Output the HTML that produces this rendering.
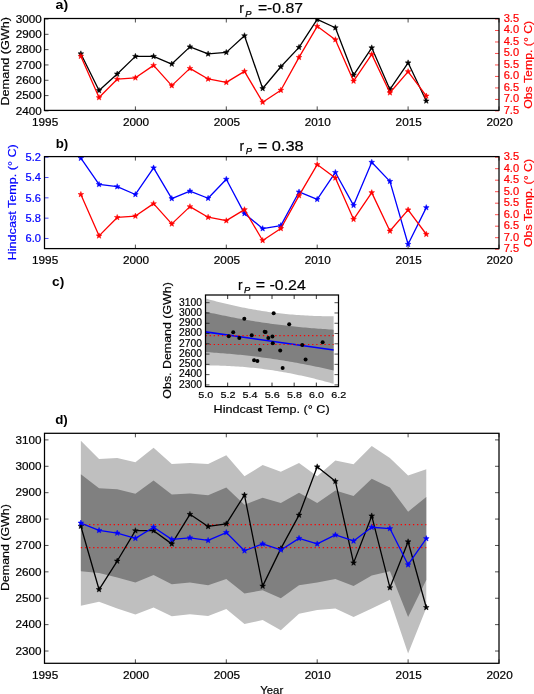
<!DOCTYPE html>
<html><head><meta charset="utf-8"><style>html,body{margin:0;padding:0;background:#fff;width:534px;height:694px;overflow:hidden}svg{display:block;will-change:transform}</style></head>
<body><svg width="534" height="694" viewBox="0 0 534 694" font-family='"Liberation Sans", sans-serif'><line x1="44.50" y1="110.40" x2="44.50" y2="106.40" stroke="#000" stroke-width="0.7"/><line x1="44.50" y1="18.50" x2="44.50" y2="22.50" stroke="#000" stroke-width="0.7"/><line x1="135.40" y1="110.40" x2="135.40" y2="106.40" stroke="#000" stroke-width="0.7"/><line x1="135.40" y1="18.50" x2="135.40" y2="22.50" stroke="#000" stroke-width="0.7"/><line x1="226.30" y1="110.40" x2="226.30" y2="106.40" stroke="#000" stroke-width="0.7"/><line x1="226.30" y1="18.50" x2="226.30" y2="22.50" stroke="#000" stroke-width="0.7"/><line x1="317.20" y1="110.40" x2="317.20" y2="106.40" stroke="#000" stroke-width="0.7"/><line x1="317.20" y1="18.50" x2="317.20" y2="22.50" stroke="#000" stroke-width="0.7"/><line x1="408.10" y1="110.40" x2="408.10" y2="106.40" stroke="#000" stroke-width="0.7"/><line x1="408.10" y1="18.50" x2="408.10" y2="22.50" stroke="#000" stroke-width="0.7"/><line x1="499.00" y1="110.40" x2="499.00" y2="106.40" stroke="#000" stroke-width="0.7"/><line x1="499.00" y1="18.50" x2="499.00" y2="22.50" stroke="#000" stroke-width="0.7"/>
<line x1="44.50" y1="110.90" x2="48.50" y2="110.90" stroke="#000" stroke-width="0.7"/><line x1="44.50" y1="95.58" x2="48.50" y2="95.58" stroke="#000" stroke-width="0.7"/><line x1="44.50" y1="80.27" x2="48.50" y2="80.27" stroke="#000" stroke-width="0.7"/><line x1="44.50" y1="64.95" x2="48.50" y2="64.95" stroke="#000" stroke-width="0.7"/><line x1="44.50" y1="49.63" x2="48.50" y2="49.63" stroke="#000" stroke-width="0.7"/><line x1="44.50" y1="34.32" x2="48.50" y2="34.32" stroke="#000" stroke-width="0.7"/><line x1="44.50" y1="19.00" x2="48.50" y2="19.00" stroke="#000" stroke-width="0.7"/>
<line x1="499.00" y1="19.00" x2="495.00" y2="19.00" stroke="#f00" stroke-width="0.7"/><line x1="499.00" y1="30.49" x2="495.00" y2="30.49" stroke="#f00" stroke-width="0.7"/><line x1="499.00" y1="41.98" x2="495.00" y2="41.98" stroke="#f00" stroke-width="0.7"/><line x1="499.00" y1="53.46" x2="495.00" y2="53.46" stroke="#f00" stroke-width="0.7"/><line x1="499.00" y1="64.95" x2="495.00" y2="64.95" stroke="#f00" stroke-width="0.7"/><line x1="499.00" y1="76.44" x2="495.00" y2="76.44" stroke="#f00" stroke-width="0.7"/><line x1="499.00" y1="87.93" x2="495.00" y2="87.93" stroke="#f00" stroke-width="0.7"/><line x1="499.00" y1="99.41" x2="495.00" y2="99.41" stroke="#f00" stroke-width="0.7"/><line x1="499.00" y1="110.90" x2="495.00" y2="110.90" stroke="#f00" stroke-width="0.7"/>
<clipPath id="ca"><rect x="44.50" y="18.50" width="454.50" height="91.90"/></clipPath><g clip-path="url(#ca)">
<polyline points="80.86,53.77 99.04,90.53 117.22,73.99 135.40,56.37 153.58,56.37 171.76,64.03 189.94,46.88 208.12,53.92 226.30,52.39 244.48,35.70 262.66,88.54 280.84,66.79 299.02,47.34 317.20,19.31 335.38,27.73 353.56,75.06 371.74,47.80 389.92,89.46 408.10,62.81 426.28,100.94" fill="none" stroke="#000" stroke-width="1.3" stroke-linejoin="round" />
<polygon points="80.86,50.77 81.60,52.75 83.71,52.84 82.06,54.16 82.62,56.20 80.86,55.03 79.10,56.20 79.66,54.16 78.01,52.84 80.12,52.75" fill="#000" stroke="#000" stroke-width="0.5"/>
<polygon points="99.04,87.53 99.78,89.51 101.89,89.60 100.24,90.92 100.80,92.96 99.04,91.79 97.28,92.96 97.84,90.92 96.19,89.60 98.30,89.51" fill="#000" stroke="#000" stroke-width="0.5"/>
<polygon points="117.22,70.99 117.96,72.97 120.07,73.06 118.42,74.38 118.98,76.41 117.22,75.25 115.46,76.41 116.02,74.38 114.37,73.06 116.48,72.97" fill="#000" stroke="#000" stroke-width="0.5"/>
<polygon points="135.40,53.37 136.14,55.35 138.25,55.45 136.60,56.76 137.16,58.80 135.40,57.63 133.64,58.80 134.20,56.76 132.55,55.45 134.66,55.35" fill="#000" stroke="#000" stroke-width="0.5"/>
<polygon points="153.58,53.37 154.32,55.35 156.43,55.45 154.78,56.76 155.34,58.80 153.58,57.63 151.82,58.80 152.38,56.76 150.73,55.45 152.84,55.35" fill="#000" stroke="#000" stroke-width="0.5"/>
<polygon points="171.76,61.03 172.50,63.01 174.61,63.10 172.96,64.42 173.52,66.46 171.76,65.29 170.00,66.46 170.56,64.42 168.91,63.10 171.02,63.01" fill="#000" stroke="#000" stroke-width="0.5"/>
<polygon points="189.94,43.88 190.68,45.86 192.79,45.95 191.14,47.27 191.70,49.30 189.94,48.14 188.18,49.30 188.74,47.27 187.09,45.95 189.20,45.86" fill="#000" stroke="#000" stroke-width="0.5"/>
<polygon points="208.12,50.92 208.86,52.90 210.97,52.99 209.32,54.31 209.88,56.35 208.12,55.18 206.36,56.35 206.92,54.31 205.27,52.99 207.38,52.90" fill="#000" stroke="#000" stroke-width="0.5"/>
<polygon points="226.30,49.39 227.04,51.37 229.15,51.46 227.50,52.78 228.06,54.82 226.30,53.65 224.54,54.82 225.10,52.78 223.45,51.46 225.56,51.37" fill="#000" stroke="#000" stroke-width="0.5"/>
<polygon points="244.48,32.70 245.22,34.68 247.33,34.77 245.68,36.08 246.24,38.12 244.48,36.96 242.72,38.12 243.28,36.08 241.63,34.77 243.74,34.68" fill="#000" stroke="#000" stroke-width="0.5"/>
<polygon points="262.66,85.54 263.40,87.52 265.51,87.61 263.86,88.93 264.42,90.96 262.66,89.80 260.90,90.96 261.46,88.93 259.81,87.61 261.92,87.52" fill="#000" stroke="#000" stroke-width="0.5"/>
<polygon points="280.84,63.79 281.58,65.77 283.69,65.86 282.04,67.18 282.60,69.22 280.84,68.05 279.08,69.22 279.64,67.18 277.99,65.86 280.10,65.77" fill="#000" stroke="#000" stroke-width="0.5"/>
<polygon points="299.02,44.34 299.76,46.32 301.87,46.41 300.22,47.73 300.78,49.76 299.02,48.60 297.26,49.76 297.82,47.73 296.17,46.41 298.28,46.32" fill="#000" stroke="#000" stroke-width="0.5"/>
<polygon points="317.20,16.31 317.94,18.29 320.05,18.38 318.40,19.70 318.96,21.73 317.20,20.57 315.44,21.73 316.00,19.70 314.35,18.38 316.46,18.29" fill="#000" stroke="#000" stroke-width="0.5"/>
<polygon points="335.38,24.73 336.12,26.71 338.23,26.80 336.58,28.12 337.14,30.16 335.38,28.99 333.62,30.16 334.18,28.12 332.53,26.80 334.64,26.71" fill="#000" stroke="#000" stroke-width="0.5"/>
<polygon points="353.56,72.06 354.30,74.04 356.41,74.13 354.76,75.45 355.32,77.49 353.56,76.32 351.80,77.49 352.36,75.45 350.71,74.13 352.82,74.04" fill="#000" stroke="#000" stroke-width="0.5"/>
<polygon points="371.74,44.80 372.48,46.78 374.59,46.87 372.94,48.18 373.50,50.22 371.74,49.06 369.98,50.22 370.54,48.18 368.89,46.87 371.00,46.78" fill="#000" stroke="#000" stroke-width="0.5"/>
<polygon points="389.92,86.46 390.66,88.44 392.77,88.53 391.12,89.85 391.68,91.88 389.92,90.72 388.16,91.88 388.72,89.85 387.07,88.53 389.18,88.44" fill="#000" stroke="#000" stroke-width="0.5"/>
<polygon points="408.10,59.81 408.84,61.79 410.95,61.88 409.30,63.20 409.86,65.23 408.10,64.07 406.34,65.23 406.90,63.20 405.25,61.88 407.36,61.79" fill="#000" stroke="#000" stroke-width="0.5"/>
<polygon points="426.28,97.94 427.02,99.92 429.13,100.02 427.48,101.33 428.04,103.37 426.28,102.20 424.52,103.37 425.08,101.33 423.43,100.02 425.54,99.92" fill="#000" stroke="#000" stroke-width="0.5"/>
<polyline points="80.86,56.22 99.04,97.57 117.22,79.19 135.40,77.82 153.58,65.41 171.76,85.63 189.94,68.40 208.12,78.96 226.30,82.41 244.48,71.38 262.66,102.17 280.84,90.22 299.02,57.37 317.20,26.35 335.38,39.68 353.56,81.03 371.74,54.38 389.92,92.75 408.10,71.61 426.28,95.97" fill="none" stroke="#f00" stroke-width="1.3" stroke-linejoin="round" />
<polygon points="80.86,53.22 81.60,55.20 83.71,55.29 82.06,56.61 82.62,58.65 80.86,57.48 79.10,58.65 79.66,56.61 78.01,55.29 80.12,55.20" fill="#f00" stroke="#f00" stroke-width="0.5"/>
<polygon points="99.04,94.57 99.78,96.56 101.89,96.65 100.24,97.96 100.80,100.00 99.04,98.83 97.28,100.00 97.84,97.96 96.19,96.65 98.30,96.56" fill="#f00" stroke="#f00" stroke-width="0.5"/>
<polygon points="117.22,76.19 117.96,78.18 120.07,78.27 118.42,79.58 118.98,81.62 117.22,80.45 115.46,81.62 116.02,79.58 114.37,78.27 116.48,78.18" fill="#f00" stroke="#f00" stroke-width="0.5"/>
<polygon points="135.40,74.82 136.14,76.80 138.25,76.89 136.60,78.21 137.16,80.24 135.40,79.08 133.64,80.24 134.20,78.21 132.55,76.89 134.66,76.80" fill="#f00" stroke="#f00" stroke-width="0.5"/>
<polygon points="153.58,62.41 154.32,64.39 156.43,64.48 154.78,65.80 155.34,67.84 153.58,66.67 151.82,67.84 152.38,65.80 150.73,64.48 152.84,64.39" fill="#f00" stroke="#f00" stroke-width="0.5"/>
<polygon points="171.76,82.63 172.50,84.61 174.61,84.70 172.96,86.02 173.52,88.05 171.76,86.89 170.00,88.05 170.56,86.02 168.91,84.70 171.02,84.61" fill="#f00" stroke="#f00" stroke-width="0.5"/>
<polygon points="189.94,65.40 190.68,67.38 192.79,67.47 191.14,68.79 191.70,70.82 189.94,69.66 188.18,70.82 188.74,68.79 187.09,67.47 189.20,67.38" fill="#f00" stroke="#f00" stroke-width="0.5"/>
<polygon points="208.12,75.96 208.86,77.95 210.97,78.04 209.32,79.35 209.88,81.39 208.12,80.22 206.36,81.39 206.92,79.35 205.27,78.04 207.38,77.95" fill="#f00" stroke="#f00" stroke-width="0.5"/>
<polygon points="226.30,79.41 227.04,81.39 229.15,81.48 227.50,82.80 228.06,84.84 226.30,83.67 224.54,84.84 225.10,82.80 223.45,81.48 225.56,81.39" fill="#f00" stroke="#f00" stroke-width="0.5"/>
<polygon points="244.48,68.38 245.22,70.36 247.33,70.46 245.68,71.77 246.24,73.81 244.48,72.64 242.72,73.81 243.28,71.77 241.63,70.46 243.74,70.36" fill="#f00" stroke="#f00" stroke-width="0.5"/>
<polygon points="262.66,99.17 263.40,101.15 265.51,101.24 263.86,102.56 264.42,104.60 262.66,103.43 260.90,104.60 261.46,102.56 259.81,101.24 261.92,101.15" fill="#f00" stroke="#f00" stroke-width="0.5"/>
<polygon points="280.84,87.22 281.58,89.20 283.69,89.30 282.04,90.61 282.60,92.65 280.84,91.48 279.08,92.65 279.64,90.61 277.99,89.30 280.10,89.20" fill="#f00" stroke="#f00" stroke-width="0.5"/>
<polygon points="299.02,54.37 299.76,56.35 301.87,56.44 300.22,57.76 300.78,59.80 299.02,58.63 297.26,59.80 297.82,57.76 296.17,56.44 298.28,56.35" fill="#f00" stroke="#f00" stroke-width="0.5"/>
<polygon points="317.20,23.35 317.94,25.33 320.05,25.42 318.40,26.74 318.96,28.78 317.20,27.61 315.44,28.78 316.00,26.74 314.35,25.42 316.46,25.33" fill="#f00" stroke="#f00" stroke-width="0.5"/>
<polygon points="335.38,36.68 336.12,38.66 338.23,38.75 336.58,40.07 337.14,42.10 335.38,40.94 333.62,42.10 334.18,40.07 332.53,38.75 334.64,38.66" fill="#f00" stroke="#f00" stroke-width="0.5"/>
<polygon points="353.56,78.03 354.30,80.01 356.41,80.11 354.76,81.42 355.32,83.46 353.56,82.29 351.80,83.46 352.36,81.42 350.71,80.11 352.82,80.01" fill="#f00" stroke="#f00" stroke-width="0.5"/>
<polygon points="371.74,51.38 372.48,53.36 374.59,53.45 372.94,54.77 373.50,56.81 371.74,55.64 369.98,56.81 370.54,54.77 368.89,53.45 371.00,53.36" fill="#f00" stroke="#f00" stroke-width="0.5"/>
<polygon points="389.92,89.75 390.66,91.73 392.77,91.82 391.12,93.14 391.68,95.18 389.92,94.01 388.16,95.18 388.72,93.14 387.07,91.82 389.18,91.73" fill="#f00" stroke="#f00" stroke-width="0.5"/>
<polygon points="408.10,68.61 408.84,70.59 410.95,70.69 409.30,72.00 409.86,74.04 408.10,72.87 406.34,74.04 406.90,72.00 405.25,70.69 407.36,70.59" fill="#f00" stroke="#f00" stroke-width="0.5"/>
<polygon points="426.28,92.97 427.02,94.95 429.13,95.04 427.48,96.36 428.04,98.39 426.28,97.23 424.52,98.39 425.08,96.36 423.43,95.04 425.54,94.95" fill="#f00" stroke="#f00" stroke-width="0.5"/>
</g>
<rect x="44.50" y="18.50" width="454.50" height="91.90" fill="none" stroke="#000" stroke-width="1.25"/>
<text x="41.80" y="114.70" font-size="10.4" fill="#000" text-anchor="end" font-weight="normal" stroke="#000" stroke-width="0.2" textLength="26.00" lengthAdjust="spacingAndGlyphs" >2400</text>
<text x="41.80" y="99.38" font-size="10.4" fill="#000" text-anchor="end" font-weight="normal" stroke="#000" stroke-width="0.2" textLength="26.00" lengthAdjust="spacingAndGlyphs" >2500</text>
<text x="41.80" y="84.07" font-size="10.4" fill="#000" text-anchor="end" font-weight="normal" stroke="#000" stroke-width="0.2" textLength="26.00" lengthAdjust="spacingAndGlyphs" >2600</text>
<text x="41.80" y="68.75" font-size="10.4" fill="#000" text-anchor="end" font-weight="normal" stroke="#000" stroke-width="0.2" textLength="26.00" lengthAdjust="spacingAndGlyphs" >2700</text>
<text x="41.80" y="53.43" font-size="10.4" fill="#000" text-anchor="end" font-weight="normal" stroke="#000" stroke-width="0.2" textLength="26.00" lengthAdjust="spacingAndGlyphs" >2800</text>
<text x="41.80" y="38.12" font-size="10.4" fill="#000" text-anchor="end" font-weight="normal" stroke="#000" stroke-width="0.2" textLength="26.00" lengthAdjust="spacingAndGlyphs" >2900</text>
<text x="41.80" y="22.80" font-size="10.4" fill="#000" text-anchor="end" font-weight="normal" stroke="#000" stroke-width="0.2" textLength="26.00" lengthAdjust="spacingAndGlyphs" >3000</text>
<text x="503.70" y="22.00" font-size="10" fill="#f00" text-anchor="start" font-weight="normal" stroke="#f00" stroke-width="0.2" textLength="15.40" lengthAdjust="spacingAndGlyphs" >3.5</text>
<text x="503.70" y="33.49" font-size="10" fill="#f00" text-anchor="start" font-weight="normal" stroke="#f00" stroke-width="0.2" textLength="15.40" lengthAdjust="spacingAndGlyphs" >4.0</text>
<text x="503.70" y="44.98" font-size="10" fill="#f00" text-anchor="start" font-weight="normal" stroke="#f00" stroke-width="0.2" textLength="15.40" lengthAdjust="spacingAndGlyphs" >4.5</text>
<text x="503.70" y="56.46" font-size="10" fill="#f00" text-anchor="start" font-weight="normal" stroke="#f00" stroke-width="0.2" textLength="15.40" lengthAdjust="spacingAndGlyphs" >5.0</text>
<text x="503.70" y="67.95" font-size="10" fill="#f00" text-anchor="start" font-weight="normal" stroke="#f00" stroke-width="0.2" textLength="15.40" lengthAdjust="spacingAndGlyphs" >5.5</text>
<text x="503.70" y="79.44" font-size="10" fill="#f00" text-anchor="start" font-weight="normal" stroke="#f00" stroke-width="0.2" textLength="15.40" lengthAdjust="spacingAndGlyphs" >6.0</text>
<text x="503.70" y="90.93" font-size="10" fill="#f00" text-anchor="start" font-weight="normal" stroke="#f00" stroke-width="0.2" textLength="15.40" lengthAdjust="spacingAndGlyphs" >6.5</text>
<text x="503.70" y="102.41" font-size="10" fill="#f00" text-anchor="start" font-weight="normal" stroke="#f00" stroke-width="0.2" textLength="15.40" lengthAdjust="spacingAndGlyphs" >7.0</text>
<text x="503.70" y="113.90" font-size="10" fill="#f00" text-anchor="start" font-weight="normal" stroke="#f00" stroke-width="0.2" textLength="15.40" lengthAdjust="spacingAndGlyphs" >7.5</text>
<text x="45.10" y="125.60" font-size="10.4" fill="#000" text-anchor="middle" font-weight="normal" stroke="#000" stroke-width="0.2" textLength="26.20" lengthAdjust="spacingAndGlyphs" >1995</text><text x="136.00" y="125.60" font-size="10.4" fill="#000" text-anchor="middle" font-weight="normal" stroke="#000" stroke-width="0.2" textLength="26.20" lengthAdjust="spacingAndGlyphs" >2000</text><text x="226.90" y="125.60" font-size="10.4" fill="#000" text-anchor="middle" font-weight="normal" stroke="#000" stroke-width="0.2" textLength="26.20" lengthAdjust="spacingAndGlyphs" >2005</text><text x="317.80" y="125.60" font-size="10.4" fill="#000" text-anchor="middle" font-weight="normal" stroke="#000" stroke-width="0.2" textLength="26.20" lengthAdjust="spacingAndGlyphs" >2010</text><text x="408.70" y="125.60" font-size="10.4" fill="#000" text-anchor="middle" font-weight="normal" stroke="#000" stroke-width="0.2" textLength="26.20" lengthAdjust="spacingAndGlyphs" >2015</text><text x="499.60" y="125.60" font-size="10.4" fill="#000" text-anchor="middle" font-weight="normal" stroke="#000" stroke-width="0.2" textLength="26.20" lengthAdjust="spacingAndGlyphs" >2020</text>
<text x="9.50" y="61.30" font-size="11.5" fill="#000" text-anchor="middle" font-weight="normal" stroke="#000" stroke-width="0.2" textLength="88.50" lengthAdjust="spacingAndGlyphs" transform="rotate(-90 9.50 61.30)" >Demand (GWh)</text>
<text x="531.90" y="64.80" font-size="11.5" fill="#f00" text-anchor="middle" font-weight="normal" stroke="#f00" stroke-width="0.2" textLength="88.00" lengthAdjust="spacingAndGlyphs" transform="rotate(-90 531.90 64.80)" >Obs Temp. (° C)</text>
<text x="55.50" y="9.20" font-size="13" fill="#000" text-anchor="start" font-weight="bold" textLength="12.60" lengthAdjust="spacingAndGlyphs" >a)</text>
<text x="239.20" y="13.40" font-size="13.8" fill="#000" text-anchor="start" font-weight="normal" stroke="#000" stroke-width="0.2" >r</text>
<text x="245.3" y="16.7" font-size="9.3" font-style="italic" fill="#000" stroke="#000" stroke-width="0.25">P</text>
<text x="257.90" y="13.40" font-size="13.8" fill="#000" text-anchor="start" font-weight="normal" stroke="#000" stroke-width="0.2" textLength="45.10" lengthAdjust="spacingAndGlyphs" >=-0.87</text>
<line x1="44.50" y1="248.60" x2="44.50" y2="244.60" stroke="#000" stroke-width="0.7"/><line x1="44.50" y1="156.60" x2="44.50" y2="160.60" stroke="#000" stroke-width="0.7"/><line x1="135.40" y1="248.60" x2="135.40" y2="244.60" stroke="#000" stroke-width="0.7"/><line x1="135.40" y1="156.60" x2="135.40" y2="160.60" stroke="#000" stroke-width="0.7"/><line x1="226.30" y1="248.60" x2="226.30" y2="244.60" stroke="#000" stroke-width="0.7"/><line x1="226.30" y1="156.60" x2="226.30" y2="160.60" stroke="#000" stroke-width="0.7"/><line x1="317.20" y1="248.60" x2="317.20" y2="244.60" stroke="#000" stroke-width="0.7"/><line x1="317.20" y1="156.60" x2="317.20" y2="160.60" stroke="#000" stroke-width="0.7"/><line x1="408.10" y1="248.60" x2="408.10" y2="244.60" stroke="#000" stroke-width="0.7"/><line x1="408.10" y1="156.60" x2="408.10" y2="160.60" stroke="#000" stroke-width="0.7"/><line x1="499.00" y1="248.60" x2="499.00" y2="244.60" stroke="#000" stroke-width="0.7"/><line x1="499.00" y1="156.60" x2="499.00" y2="160.60" stroke="#000" stroke-width="0.7"/>
<line x1="44.50" y1="157.20" x2="48.50" y2="157.20" stroke="#00f" stroke-width="0.7"/><line x1="44.50" y1="177.52" x2="48.50" y2="177.52" stroke="#00f" stroke-width="0.7"/><line x1="44.50" y1="197.84" x2="48.50" y2="197.84" stroke="#00f" stroke-width="0.7"/><line x1="44.50" y1="218.16" x2="48.50" y2="218.16" stroke="#00f" stroke-width="0.7"/><line x1="44.50" y1="238.48" x2="48.50" y2="238.48" stroke="#00f" stroke-width="0.7"/>
<line x1="499.00" y1="157.20" x2="495.00" y2="157.20" stroke="#f00" stroke-width="0.7"/><line x1="499.00" y1="168.70" x2="495.00" y2="168.70" stroke="#f00" stroke-width="0.7"/><line x1="499.00" y1="180.20" x2="495.00" y2="180.20" stroke="#f00" stroke-width="0.7"/><line x1="499.00" y1="191.70" x2="495.00" y2="191.70" stroke="#f00" stroke-width="0.7"/><line x1="499.00" y1="203.20" x2="495.00" y2="203.20" stroke="#f00" stroke-width="0.7"/><line x1="499.00" y1="214.70" x2="495.00" y2="214.70" stroke="#f00" stroke-width="0.7"/><line x1="499.00" y1="226.20" x2="495.00" y2="226.20" stroke="#f00" stroke-width="0.7"/><line x1="499.00" y1="237.70" x2="495.00" y2="237.70" stroke="#f00" stroke-width="0.7"/><line x1="499.00" y1="249.20" x2="495.00" y2="249.20" stroke="#f00" stroke-width="0.7"/>
<clipPath id="cb"><rect x="44.50" y="156.60" width="454.50" height="92.00"/></clipPath><g clip-path="url(#cb)">
<polyline points="80.86,158.22 99.04,184.43 117.22,186.66 135.40,194.49 153.58,167.87 171.76,198.55 189.94,191.13 208.12,198.25 226.30,179.25 244.48,213.59 262.66,228.62 280.84,225.58 299.02,191.95 317.20,199.36 335.38,172.44 353.56,205.36 371.74,162.28 389.92,181.38 408.10,244.27 426.28,207.59" fill="none" stroke="#00f" stroke-width="1.3" stroke-linejoin="round" />
<polygon points="80.86,155.22 81.60,157.20 83.71,157.29 82.06,158.61 82.62,160.64 80.86,159.48 79.10,160.64 79.66,158.61 78.01,157.29 80.12,157.20" fill="#00f" stroke="#00f" stroke-width="0.5"/>
<polygon points="99.04,181.43 99.78,183.41 101.89,183.50 100.24,184.82 100.80,186.86 99.04,185.69 97.28,186.86 97.84,184.82 96.19,183.50 98.30,183.41" fill="#00f" stroke="#00f" stroke-width="0.5"/>
<polygon points="117.22,183.66 117.96,185.64 120.07,185.74 118.42,187.05 118.98,189.09 117.22,187.92 115.46,189.09 116.02,187.05 114.37,185.74 116.48,185.64" fill="#00f" stroke="#00f" stroke-width="0.5"/>
<polygon points="135.40,191.49 136.14,193.47 138.25,193.56 136.60,194.88 137.16,196.91 135.40,195.75 133.64,196.91 134.20,194.88 132.55,193.56 134.66,193.47" fill="#00f" stroke="#00f" stroke-width="0.5"/>
<polygon points="153.58,164.87 154.32,166.85 156.43,166.94 154.78,168.26 155.34,170.30 153.58,169.13 151.82,170.30 152.38,168.26 150.73,166.94 152.84,166.85" fill="#00f" stroke="#00f" stroke-width="0.5"/>
<polygon points="171.76,195.55 172.50,197.53 174.61,197.62 172.96,198.94 173.52,200.98 171.76,199.81 170.00,200.98 170.56,198.94 168.91,197.62 171.02,197.53" fill="#00f" stroke="#00f" stroke-width="0.5"/>
<polygon points="189.94,188.13 190.68,190.12 192.79,190.21 191.14,191.52 191.70,193.56 189.94,192.39 188.18,193.56 188.74,191.52 187.09,190.21 189.20,190.12" fill="#00f" stroke="#00f" stroke-width="0.5"/>
<polygon points="208.12,195.25 208.86,197.23 210.97,197.32 209.32,198.64 209.88,200.67 208.12,199.51 206.36,200.67 206.92,198.64 205.27,197.32 207.38,197.23" fill="#00f" stroke="#00f" stroke-width="0.5"/>
<polygon points="226.30,176.25 227.04,178.23 229.15,178.32 227.50,179.64 228.06,181.67 226.30,180.51 224.54,181.67 225.10,179.64 223.45,178.32 225.56,178.23" fill="#00f" stroke="#00f" stroke-width="0.5"/>
<polygon points="244.48,210.59 245.22,212.57 247.33,212.66 245.68,213.98 246.24,216.02 244.48,214.85 242.72,216.02 243.28,213.98 241.63,212.66 243.74,212.57" fill="#00f" stroke="#00f" stroke-width="0.5"/>
<polygon points="262.66,225.62 263.40,227.61 265.51,227.70 263.86,229.01 264.42,231.05 262.66,229.88 260.90,231.05 261.46,229.01 259.81,227.70 261.92,227.61" fill="#00f" stroke="#00f" stroke-width="0.5"/>
<polygon points="280.84,222.58 281.58,224.56 283.69,224.65 282.04,225.97 282.60,228.00 280.84,226.84 279.08,228.00 279.64,225.97 277.99,224.65 280.10,224.56" fill="#00f" stroke="#00f" stroke-width="0.5"/>
<polygon points="299.02,188.95 299.76,190.93 301.87,191.02 300.22,192.34 300.78,194.37 299.02,193.21 297.26,194.37 297.82,192.34 296.17,191.02 298.28,190.93" fill="#00f" stroke="#00f" stroke-width="0.5"/>
<polygon points="317.20,196.36 317.94,198.34 320.05,198.44 318.40,199.75 318.96,201.79 317.20,200.62 315.44,201.79 316.00,199.75 314.35,198.44 316.46,198.34" fill="#00f" stroke="#00f" stroke-width="0.5"/>
<polygon points="335.38,169.44 336.12,171.42 338.23,171.51 336.58,172.83 337.14,174.87 335.38,173.70 333.62,174.87 334.18,172.83 332.53,171.51 334.64,171.42" fill="#00f" stroke="#00f" stroke-width="0.5"/>
<polygon points="353.56,202.36 354.30,204.34 356.41,204.43 354.76,205.75 355.32,207.79 353.56,206.62 351.80,207.79 352.36,205.75 350.71,204.43 352.82,204.34" fill="#00f" stroke="#00f" stroke-width="0.5"/>
<polygon points="371.74,159.28 372.48,161.26 374.59,161.35 372.94,162.67 373.50,164.71 371.74,163.54 369.98,164.71 370.54,162.67 368.89,161.35 371.00,161.26" fill="#00f" stroke="#00f" stroke-width="0.5"/>
<polygon points="389.92,178.38 390.66,180.36 392.77,180.45 391.12,181.77 391.68,183.81 389.92,182.64 388.16,183.81 388.72,181.77 387.07,180.45 389.18,180.36" fill="#00f" stroke="#00f" stroke-width="0.5"/>
<polygon points="408.10,241.27 408.84,243.25 410.95,243.34 409.30,244.66 409.86,246.70 408.10,245.53 406.34,246.70 406.90,244.66 405.25,243.34 407.36,243.25" fill="#00f" stroke="#00f" stroke-width="0.5"/>
<polygon points="426.28,204.59 427.02,206.57 429.13,206.67 427.48,207.98 428.04,210.02 426.28,208.85 424.52,210.02 425.08,207.98 423.43,206.67 425.54,206.57" fill="#00f" stroke="#00f" stroke-width="0.5"/>
<polyline points="80.86,194.46 99.04,235.86 117.22,217.46 135.40,216.08 153.58,203.66 171.76,223.90 189.94,206.65 208.12,217.23 226.30,220.68 244.48,209.64 262.66,240.46 280.84,228.50 299.02,195.61 317.20,164.56 335.38,177.90 353.56,219.30 371.74,192.62 389.92,231.03 408.10,209.87 426.28,234.25" fill="none" stroke="#f00" stroke-width="1.3" stroke-linejoin="round" />
<polygon points="80.86,191.46 81.60,193.44 83.71,193.53 82.06,194.85 82.62,196.89 80.86,195.72 79.10,196.89 79.66,194.85 78.01,193.53 80.12,193.44" fill="#f00" stroke="#f00" stroke-width="0.5"/>
<polygon points="99.04,232.86 99.78,234.84 101.89,234.93 100.24,236.25 100.80,238.29 99.04,237.12 97.28,238.29 97.84,236.25 96.19,234.93 98.30,234.84" fill="#f00" stroke="#f00" stroke-width="0.5"/>
<polygon points="117.22,214.46 117.96,216.44 120.07,216.53 118.42,217.85 118.98,219.89 117.22,218.72 115.46,219.89 116.02,217.85 114.37,216.53 116.48,216.44" fill="#f00" stroke="#f00" stroke-width="0.5"/>
<polygon points="135.40,213.08 136.14,215.06 138.25,215.15 136.60,216.47 137.16,218.51 135.40,217.34 133.64,218.51 134.20,216.47 132.55,215.15 134.66,215.06" fill="#f00" stroke="#f00" stroke-width="0.5"/>
<polygon points="153.58,200.66 154.32,202.64 156.43,202.73 154.78,204.05 155.34,206.09 153.58,204.92 151.82,206.09 152.38,204.05 150.73,202.73 152.84,202.64" fill="#f00" stroke="#f00" stroke-width="0.5"/>
<polygon points="171.76,220.90 172.50,222.88 174.61,222.97 172.96,224.29 173.52,226.33 171.76,225.16 170.00,226.33 170.56,224.29 168.91,222.97 171.02,222.88" fill="#f00" stroke="#f00" stroke-width="0.5"/>
<polygon points="189.94,203.65 190.68,205.63 192.79,205.72 191.14,207.04 191.70,209.08 189.94,207.91 188.18,209.08 188.74,207.04 187.09,205.72 189.20,205.63" fill="#f00" stroke="#f00" stroke-width="0.5"/>
<polygon points="208.12,214.23 208.86,216.21 210.97,216.30 209.32,217.62 209.88,219.66 208.12,218.49 206.36,219.66 206.92,217.62 205.27,216.30 207.38,216.21" fill="#f00" stroke="#f00" stroke-width="0.5"/>
<polygon points="226.30,217.68 227.04,219.66 229.15,219.75 227.50,221.07 228.06,223.11 226.30,221.94 224.54,223.11 225.10,221.07 223.45,219.75 225.56,219.66" fill="#f00" stroke="#f00" stroke-width="0.5"/>
<polygon points="244.48,206.64 245.22,208.62 247.33,208.71 245.68,210.03 246.24,212.07 244.48,210.90 242.72,212.07 243.28,210.03 241.63,208.71 243.74,208.62" fill="#f00" stroke="#f00" stroke-width="0.5"/>
<polygon points="262.66,237.46 263.40,239.44 265.51,239.53 263.86,240.85 264.42,242.89 262.66,241.72 260.90,242.89 261.46,240.85 259.81,239.53 261.92,239.44" fill="#f00" stroke="#f00" stroke-width="0.5"/>
<polygon points="280.84,225.50 281.58,227.48 283.69,227.57 282.04,228.89 282.60,230.93 280.84,229.76 279.08,230.93 279.64,228.89 277.99,227.57 280.10,227.48" fill="#f00" stroke="#f00" stroke-width="0.5"/>
<polygon points="299.02,192.61 299.76,194.59 301.87,194.68 300.22,196.00 300.78,198.04 299.02,196.87 297.26,198.04 297.82,196.00 296.17,194.68 298.28,194.59" fill="#f00" stroke="#f00" stroke-width="0.5"/>
<polygon points="317.20,161.56 317.94,163.54 320.05,163.63 318.40,164.95 318.96,166.99 317.20,165.82 315.44,166.99 316.00,164.95 314.35,163.63 316.46,163.54" fill="#f00" stroke="#f00" stroke-width="0.5"/>
<polygon points="335.38,174.90 336.12,176.88 338.23,176.97 336.58,178.29 337.14,180.33 335.38,179.16 333.62,180.33 334.18,178.29 332.53,176.97 334.64,176.88" fill="#f00" stroke="#f00" stroke-width="0.5"/>
<polygon points="353.56,216.30 354.30,218.28 356.41,218.37 354.76,219.69 355.32,221.73 353.56,220.56 351.80,221.73 352.36,219.69 350.71,218.37 352.82,218.28" fill="#f00" stroke="#f00" stroke-width="0.5"/>
<polygon points="371.74,189.62 372.48,191.60 374.59,191.69 372.94,193.01 373.50,195.05 371.74,193.88 369.98,195.05 370.54,193.01 368.89,191.69 371.00,191.60" fill="#f00" stroke="#f00" stroke-width="0.5"/>
<polygon points="389.92,228.03 390.66,230.01 392.77,230.10 391.12,231.42 391.68,233.46 389.92,232.29 388.16,233.46 388.72,231.42 387.07,230.10 389.18,230.01" fill="#f00" stroke="#f00" stroke-width="0.5"/>
<polygon points="408.10,206.87 408.84,208.85 410.95,208.94 409.30,210.26 409.86,212.30 408.10,211.13 406.34,212.30 406.90,210.26 405.25,208.94 407.36,208.85" fill="#f00" stroke="#f00" stroke-width="0.5"/>
<polygon points="426.28,231.25 427.02,233.23 429.13,233.32 427.48,234.64 428.04,236.68 426.28,235.51 424.52,236.68 425.08,234.64 423.43,233.32 425.54,233.23" fill="#f00" stroke="#f00" stroke-width="0.5"/>
</g>
<rect x="44.50" y="156.60" width="454.50" height="92.00" fill="none" stroke="#000" stroke-width="1.25"/>
<text x="41.00" y="160.90" font-size="10" fill="#00f" text-anchor="end" font-weight="normal" stroke="#00f" stroke-width="0.2" textLength="15.40" lengthAdjust="spacingAndGlyphs" >5.2</text>
<text x="41.00" y="181.22" font-size="10" fill="#00f" text-anchor="end" font-weight="normal" stroke="#00f" stroke-width="0.2" textLength="15.40" lengthAdjust="spacingAndGlyphs" >5.4</text>
<text x="41.00" y="201.54" font-size="10" fill="#00f" text-anchor="end" font-weight="normal" stroke="#00f" stroke-width="0.2" textLength="15.40" lengthAdjust="spacingAndGlyphs" >5.6</text>
<text x="41.00" y="221.86" font-size="10" fill="#00f" text-anchor="end" font-weight="normal" stroke="#00f" stroke-width="0.2" textLength="15.40" lengthAdjust="spacingAndGlyphs" >5.8</text>
<text x="41.00" y="242.18" font-size="10" fill="#00f" text-anchor="end" font-weight="normal" stroke="#00f" stroke-width="0.2" textLength="15.40" lengthAdjust="spacingAndGlyphs" >6.0</text>
<text x="503.70" y="160.10" font-size="10" fill="#f00" text-anchor="start" font-weight="normal" stroke="#f00" stroke-width="0.2" textLength="15.40" lengthAdjust="spacingAndGlyphs" >3.5</text>
<text x="503.70" y="171.60" font-size="10" fill="#f00" text-anchor="start" font-weight="normal" stroke="#f00" stroke-width="0.2" textLength="15.40" lengthAdjust="spacingAndGlyphs" >4.0</text>
<text x="503.70" y="183.10" font-size="10" fill="#f00" text-anchor="start" font-weight="normal" stroke="#f00" stroke-width="0.2" textLength="15.40" lengthAdjust="spacingAndGlyphs" >4.5</text>
<text x="503.70" y="194.60" font-size="10" fill="#f00" text-anchor="start" font-weight="normal" stroke="#f00" stroke-width="0.2" textLength="15.40" lengthAdjust="spacingAndGlyphs" >5.0</text>
<text x="503.70" y="206.10" font-size="10" fill="#f00" text-anchor="start" font-weight="normal" stroke="#f00" stroke-width="0.2" textLength="15.40" lengthAdjust="spacingAndGlyphs" >5.5</text>
<text x="503.70" y="217.60" font-size="10" fill="#f00" text-anchor="start" font-weight="normal" stroke="#f00" stroke-width="0.2" textLength="15.40" lengthAdjust="spacingAndGlyphs" >6.0</text>
<text x="503.70" y="229.10" font-size="10" fill="#f00" text-anchor="start" font-weight="normal" stroke="#f00" stroke-width="0.2" textLength="15.40" lengthAdjust="spacingAndGlyphs" >6.5</text>
<text x="503.70" y="240.60" font-size="10" fill="#f00" text-anchor="start" font-weight="normal" stroke="#f00" stroke-width="0.2" textLength="15.40" lengthAdjust="spacingAndGlyphs" >7.0</text>
<text x="503.70" y="252.10" font-size="10" fill="#f00" text-anchor="start" font-weight="normal" stroke="#f00" stroke-width="0.2" textLength="15.40" lengthAdjust="spacingAndGlyphs" >7.5</text>
<text x="45.10" y="263.80" font-size="10.4" fill="#000" text-anchor="middle" font-weight="normal" stroke="#000" stroke-width="0.2" textLength="26.20" lengthAdjust="spacingAndGlyphs" >1995</text><text x="136.00" y="263.80" font-size="10.4" fill="#000" text-anchor="middle" font-weight="normal" stroke="#000" stroke-width="0.2" textLength="26.20" lengthAdjust="spacingAndGlyphs" >2000</text><text x="226.90" y="263.80" font-size="10.4" fill="#000" text-anchor="middle" font-weight="normal" stroke="#000" stroke-width="0.2" textLength="26.20" lengthAdjust="spacingAndGlyphs" >2005</text><text x="317.80" y="263.80" font-size="10.4" fill="#000" text-anchor="middle" font-weight="normal" stroke="#000" stroke-width="0.2" textLength="26.20" lengthAdjust="spacingAndGlyphs" >2010</text><text x="408.70" y="263.80" font-size="10.4" fill="#000" text-anchor="middle" font-weight="normal" stroke="#000" stroke-width="0.2" textLength="26.20" lengthAdjust="spacingAndGlyphs" >2015</text><text x="499.60" y="263.80" font-size="10.4" fill="#000" text-anchor="middle" font-weight="normal" stroke="#000" stroke-width="0.2" textLength="26.20" lengthAdjust="spacingAndGlyphs" >2020</text>
<text x="16.20" y="202.30" font-size="11.5" fill="#00f" text-anchor="middle" font-weight="normal" stroke="#00f" stroke-width="0.2" textLength="116.00" lengthAdjust="spacingAndGlyphs" transform="rotate(-90 16.20 202.30)" >Hindcast Temp. (° C)</text>
<text x="531.90" y="203.00" font-size="11.5" fill="#f00" text-anchor="middle" font-weight="normal" stroke="#f00" stroke-width="0.2" textLength="88.00" lengthAdjust="spacingAndGlyphs" transform="rotate(-90 531.90 203.00)" >Obs Temp. (° C)</text>
<text x="55.70" y="147.70" font-size="13" fill="#000" text-anchor="start" font-weight="bold" textLength="12.60" lengthAdjust="spacingAndGlyphs" >b)</text>
<text x="239.60" y="151.00" font-size="13.8" fill="#000" text-anchor="start" font-weight="normal" stroke="#000" stroke-width="0.2" >r</text>
<text x="245.7" y="154.3" font-size="9.3" font-style="italic" fill="#000" stroke="#000" stroke-width="0.25">P</text>
<text x="257.70" y="151.00" font-size="13.8" fill="#000" text-anchor="start" font-weight="normal" stroke="#000" stroke-width="0.2" textLength="45.90" lengthAdjust="spacingAndGlyphs" >= 0.38</text>
<clipPath id="cc"><rect x="205.50" y="295.00" width="133.00" height="91.60"/></clipPath>
<g clip-path="url(#cc)">
<polygon points="205.50,298.49 207.67,299.09 209.84,299.67 212.01,300.25 214.19,300.82 216.36,301.38 218.53,301.93 220.70,302.48 222.87,303.01 225.04,303.54 227.22,304.05 229.39,304.56 231.56,305.06 233.73,305.54 235.90,306.02 238.07,306.49 240.25,306.95 242.42,307.39 244.59,307.83 246.76,308.25 248.93,308.67 251.10,309.07 253.27,309.46 255.45,309.85 257.62,310.22 259.79,310.57 261.96,310.92 264.13,311.26 266.30,311.58 268.48,311.89 270.65,312.19 272.82,312.48 274.99,312.76 277.16,313.03 279.33,313.28 281.51,313.53 283.68,313.76 285.85,313.98 288.02,314.19 290.19,314.39 292.36,314.58 294.53,314.75 296.71,314.92 298.88,315.08 301.05,315.22 303.22,315.36 305.39,315.48 307.56,315.60 309.74,315.71 311.91,315.80 314.08,315.89 316.25,315.97 318.42,316.04 320.59,316.10 322.77,316.15 324.94,316.20 327.11,316.23 329.28,316.26 331.45,316.28 333.62,316.29 333.62,383.74 331.45,383.14 329.28,382.55 327.11,381.96 324.94,381.39 322.77,380.82 320.59,380.26 318.42,379.70 316.25,379.16 314.08,378.62 311.91,378.10 309.74,377.58 307.56,377.07 305.39,376.58 303.22,376.09 301.05,375.61 298.88,375.14 296.71,374.68 294.53,374.24 292.36,373.80 290.19,373.37 288.02,372.96 285.85,372.56 283.68,372.16 281.51,371.78 279.33,371.41 277.16,371.05 274.99,370.70 272.82,370.37 270.65,370.04 268.48,369.73 266.30,369.43 264.13,369.14 261.96,368.86 259.79,368.59 257.62,368.34 255.45,368.10 253.27,367.86 251.10,367.64 248.93,367.43 246.76,367.23 244.59,367.04 242.42,366.86 240.25,366.70 238.07,366.54 235.90,366.39 233.73,366.26 231.56,366.13 229.39,366.02 227.22,365.91 225.04,365.81 222.87,365.72 220.70,365.64 218.53,365.57 216.36,365.51 214.19,365.46 212.01,365.42 209.84,365.38 207.67,365.35 205.50,365.33" fill="#bfbfbf"/>
<polygon points="205.50,311.73 207.67,312.21 209.84,312.68 212.01,313.15 214.19,313.62 216.36,314.08 218.53,314.53 220.70,314.98 222.87,315.43 225.04,315.86 227.22,316.30 229.39,316.73 231.56,317.15 233.73,317.56 235.90,317.97 238.07,318.38 240.25,318.78 242.42,319.17 244.59,319.55 246.76,319.93 248.93,320.30 251.10,320.67 253.27,321.03 255.45,321.38 257.62,321.72 259.79,322.06 261.96,322.39 264.13,322.72 266.30,323.03 268.48,323.34 270.65,323.65 272.82,323.94 274.99,324.23 277.16,324.51 279.33,324.79 281.51,325.06 283.68,325.32 285.85,325.58 288.02,325.82 290.19,326.07 292.36,326.30 294.53,326.53 296.71,326.75 298.88,326.97 301.05,327.18 303.22,327.38 305.39,327.58 307.56,327.77 309.74,327.95 311.91,328.13 314.08,328.31 316.25,328.48 318.42,328.64 320.59,328.80 322.77,328.95 324.94,329.10 327.11,329.25 329.28,329.38 331.45,329.52 333.62,329.65 333.62,370.39 331.45,369.91 329.28,369.43 327.11,368.95 324.94,368.48 322.77,368.02 320.59,367.55 318.42,367.10 316.25,366.65 314.08,366.20 311.91,365.77 309.74,365.33 307.56,364.90 305.39,364.48 303.22,364.06 301.05,363.65 298.88,363.25 296.71,362.85 294.53,362.46 292.36,362.08 290.19,361.70 288.02,361.32 285.85,360.96 283.68,360.60 281.51,360.25 279.33,359.90 277.16,359.56 274.99,359.23 272.82,358.91 270.65,358.59 268.48,358.28 266.30,357.98 264.13,357.68 261.96,357.39 259.79,357.11 257.62,356.83 255.45,356.56 253.27,356.30 251.10,356.05 248.93,355.80 246.76,355.56 244.59,355.32 242.42,355.09 240.25,354.87 238.07,354.65 235.90,354.44 233.73,354.24 231.56,354.04 229.39,353.85 227.22,353.66 225.04,353.48 222.87,353.31 220.70,353.14 218.53,352.98 216.36,352.82 214.19,352.66 212.01,352.51 209.84,352.37 207.67,352.23 205.50,352.10" fill="#808080"/>
<line x1="205.50" y1="331.91" x2="333.62" y2="350.02" stroke="#00f" stroke-width="1.6"/>
<line x1="205.50" y1="335.58" x2="333.62" y2="335.58" stroke="#f00" stroke-width="1.2" stroke-dasharray="1.3,2.8"/>
<line x1="205.50" y1="344.52" x2="333.62" y2="344.52" stroke="#f00" stroke-width="1.2" stroke-dasharray="1.3,2.8"/>
<circle cx="228.78" cy="336.30" r="2.0" fill="#000"/>
<circle cx="257.37" cy="360.96" r="2.0" fill="#000"/>
<circle cx="259.81" cy="349.86" r="2.0" fill="#000"/>
<circle cx="268.34" cy="338.05" r="2.0" fill="#000"/>
<circle cx="239.30" cy="338.05" r="2.0" fill="#000"/>
<circle cx="272.78" cy="343.18" r="2.0" fill="#000"/>
<circle cx="264.69" cy="331.68" r="2.0" fill="#000"/>
<circle cx="272.44" cy="336.40" r="2.0" fill="#000"/>
<circle cx="251.72" cy="335.37" r="2.0" fill="#000"/>
<circle cx="289.18" cy="324.17" r="2.0" fill="#000"/>
<circle cx="305.58" cy="359.62" r="2.0" fill="#000"/>
<circle cx="302.26" cy="345.03" r="2.0" fill="#000"/>
<circle cx="265.57" cy="331.98" r="2.0" fill="#000"/>
<circle cx="273.66" cy="313.18" r="2.0" fill="#000"/>
<circle cx="244.29" cy="318.83" r="2.0" fill="#000"/>
<circle cx="280.20" cy="350.58" r="2.0" fill="#000"/>
<circle cx="233.21" cy="332.29" r="2.0" fill="#000"/>
<circle cx="254.04" cy="360.24" r="2.0" fill="#000"/>
<circle cx="322.65" cy="342.36" r="2.0" fill="#000"/>
<circle cx="282.64" cy="367.95" r="2.0" fill="#000"/>
</g>
<line x1="205.50" y1="386.60" x2="205.50" y2="382.60" stroke="#000" stroke-width="0.8"/>
<line x1="205.50" y1="295.00" x2="205.50" y2="299.00" stroke="#000" stroke-width="0.8"/>
<line x1="227.67" y1="386.60" x2="227.67" y2="382.60" stroke="#000" stroke-width="0.8"/>
<line x1="227.67" y1="295.00" x2="227.67" y2="299.00" stroke="#000" stroke-width="0.8"/>
<line x1="249.83" y1="386.60" x2="249.83" y2="382.60" stroke="#000" stroke-width="0.8"/>
<line x1="249.83" y1="295.00" x2="249.83" y2="299.00" stroke="#000" stroke-width="0.8"/>
<line x1="272.00" y1="386.60" x2="272.00" y2="382.60" stroke="#000" stroke-width="0.8"/>
<line x1="272.00" y1="295.00" x2="272.00" y2="299.00" stroke="#000" stroke-width="0.8"/>
<line x1="294.17" y1="386.60" x2="294.17" y2="382.60" stroke="#000" stroke-width="0.8"/>
<line x1="294.17" y1="295.00" x2="294.17" y2="299.00" stroke="#000" stroke-width="0.8"/>
<line x1="316.33" y1="386.60" x2="316.33" y2="382.60" stroke="#000" stroke-width="0.8"/>
<line x1="316.33" y1="295.00" x2="316.33" y2="299.00" stroke="#000" stroke-width="0.8"/>
<line x1="338.50" y1="386.60" x2="338.50" y2="382.60" stroke="#000" stroke-width="0.8"/>
<line x1="338.50" y1="295.00" x2="338.50" y2="299.00" stroke="#000" stroke-width="0.8"/>
<line x1="205.50" y1="384.90" x2="209.50" y2="384.90" stroke="#000" stroke-width="0.7"/><line x1="205.50" y1="374.62" x2="209.50" y2="374.62" stroke="#000" stroke-width="0.7"/><line x1="205.50" y1="364.35" x2="209.50" y2="364.35" stroke="#000" stroke-width="0.7"/><line x1="205.50" y1="354.07" x2="209.50" y2="354.07" stroke="#000" stroke-width="0.7"/><line x1="205.50" y1="343.80" x2="209.50" y2="343.80" stroke="#000" stroke-width="0.7"/><line x1="205.50" y1="333.52" x2="209.50" y2="333.52" stroke="#000" stroke-width="0.7"/><line x1="205.50" y1="323.25" x2="209.50" y2="323.25" stroke="#000" stroke-width="0.7"/><line x1="205.50" y1="312.97" x2="209.50" y2="312.97" stroke="#000" stroke-width="0.7"/><line x1="205.50" y1="302.70" x2="209.50" y2="302.70" stroke="#000" stroke-width="0.7"/>
<line x1="338.50" y1="384.90" x2="334.50" y2="384.90" stroke="#000" stroke-width="0.7"/><line x1="338.50" y1="374.62" x2="334.50" y2="374.62" stroke="#000" stroke-width="0.7"/><line x1="338.50" y1="364.35" x2="334.50" y2="364.35" stroke="#000" stroke-width="0.7"/><line x1="338.50" y1="354.07" x2="334.50" y2="354.07" stroke="#000" stroke-width="0.7"/><line x1="338.50" y1="343.80" x2="334.50" y2="343.80" stroke="#000" stroke-width="0.7"/><line x1="338.50" y1="333.52" x2="334.50" y2="333.52" stroke="#000" stroke-width="0.7"/><line x1="338.50" y1="323.25" x2="334.50" y2="323.25" stroke="#000" stroke-width="0.7"/><line x1="338.50" y1="312.97" x2="334.50" y2="312.97" stroke="#000" stroke-width="0.7"/><line x1="338.50" y1="302.70" x2="334.50" y2="302.70" stroke="#000" stroke-width="0.7"/>
<rect x="205.50" y="295.00" width="133.00" height="91.60" fill="none" stroke="#000" stroke-width="1.25"/>
<text x="202.00" y="387.70" font-size="10.2" fill="#000" text-anchor="end" font-weight="normal" stroke="#000" stroke-width="0.2" textLength="22.90" lengthAdjust="spacingAndGlyphs" >2300</text>
<text x="202.00" y="377.43" font-size="10.2" fill="#000" text-anchor="end" font-weight="normal" stroke="#000" stroke-width="0.2" textLength="22.90" lengthAdjust="spacingAndGlyphs" >2400</text>
<text x="202.00" y="367.15" font-size="10.2" fill="#000" text-anchor="end" font-weight="normal" stroke="#000" stroke-width="0.2" textLength="22.90" lengthAdjust="spacingAndGlyphs" >2500</text>
<text x="202.00" y="356.88" font-size="10.2" fill="#000" text-anchor="end" font-weight="normal" stroke="#000" stroke-width="0.2" textLength="22.90" lengthAdjust="spacingAndGlyphs" >2600</text>
<text x="202.00" y="346.60" font-size="10.2" fill="#000" text-anchor="end" font-weight="normal" stroke="#000" stroke-width="0.2" textLength="22.90" lengthAdjust="spacingAndGlyphs" >2700</text>
<text x="202.00" y="336.32" font-size="10.2" fill="#000" text-anchor="end" font-weight="normal" stroke="#000" stroke-width="0.2" textLength="22.90" lengthAdjust="spacingAndGlyphs" >2800</text>
<text x="202.00" y="326.05" font-size="10.2" fill="#000" text-anchor="end" font-weight="normal" stroke="#000" stroke-width="0.2" textLength="22.90" lengthAdjust="spacingAndGlyphs" >2900</text>
<text x="202.00" y="315.77" font-size="10.2" fill="#000" text-anchor="end" font-weight="normal" stroke="#000" stroke-width="0.2" textLength="22.90" lengthAdjust="spacingAndGlyphs" >3000</text>
<text x="202.00" y="305.50" font-size="10.2" fill="#000" text-anchor="end" font-weight="normal" stroke="#000" stroke-width="0.2" textLength="22.90" lengthAdjust="spacingAndGlyphs" >3100</text>
<text x="205.80" y="397.90" font-size="9.6" fill="#000" text-anchor="middle" font-weight="normal" stroke="#000" stroke-width="0.2" textLength="15.00" lengthAdjust="spacingAndGlyphs" >5.0</text>
<text x="227.97" y="397.90" font-size="9.6" fill="#000" text-anchor="middle" font-weight="normal" stroke="#000" stroke-width="0.2" textLength="15.00" lengthAdjust="spacingAndGlyphs" >5.2</text>
<text x="250.13" y="397.90" font-size="9.6" fill="#000" text-anchor="middle" font-weight="normal" stroke="#000" stroke-width="0.2" textLength="15.00" lengthAdjust="spacingAndGlyphs" >5.4</text>
<text x="272.30" y="397.90" font-size="9.6" fill="#000" text-anchor="middle" font-weight="normal" stroke="#000" stroke-width="0.2" textLength="15.00" lengthAdjust="spacingAndGlyphs" >5.6</text>
<text x="294.47" y="397.90" font-size="9.6" fill="#000" text-anchor="middle" font-weight="normal" stroke="#000" stroke-width="0.2" textLength="15.00" lengthAdjust="spacingAndGlyphs" >5.8</text>
<text x="316.63" y="397.90" font-size="9.6" fill="#000" text-anchor="middle" font-weight="normal" stroke="#000" stroke-width="0.2" textLength="15.00" lengthAdjust="spacingAndGlyphs" >6.0</text>
<text x="338.80" y="397.90" font-size="9.6" fill="#000" text-anchor="middle" font-weight="normal" stroke="#000" stroke-width="0.2" textLength="15.00" lengthAdjust="spacingAndGlyphs" >6.2</text>
<text x="171.50" y="340.40" font-size="11.5" fill="#000" text-anchor="middle" font-weight="normal" stroke="#000" stroke-width="0.2" textLength="116.50" lengthAdjust="spacingAndGlyphs" transform="rotate(-90 171.50 340.40)" >Obs. Demand (GWh)</text>
<text x="271.60" y="412.50" font-size="11.5" fill="#000" text-anchor="middle" font-weight="normal" stroke="#000" stroke-width="0.2" textLength="116.00" lengthAdjust="spacingAndGlyphs" >Hindcast Temp. (° C)</text>
<text x="52.10" y="286.00" font-size="13" fill="#000" text-anchor="start" font-weight="bold" textLength="12.20" lengthAdjust="spacingAndGlyphs" >c)</text>
<text x="238.00" y="289.50" font-size="13.8" fill="#000" text-anchor="start" font-weight="normal" stroke="#000" stroke-width="0.2" >r</text>
<text x="244.1" y="292.8" font-size="9.3" font-style="italic" fill="#000" stroke="#000" stroke-width="0.25">P</text>
<text x="255.80" y="289.50" font-size="13.8" fill="#000" text-anchor="start" font-weight="normal" stroke="#000" stroke-width="0.2" textLength="50.00" lengthAdjust="spacingAndGlyphs" >= -0.24</text>
<polygon points="80.86,440.69 99.04,458.90 117.22,458.11 135.40,462.33 153.58,447.82 171.76,463.91 189.94,463.12 208.12,463.91 226.30,455.21 244.48,476.32 262.66,464.97 280.84,471.83 299.02,463.12 317.20,476.32 335.38,460.48 353.56,464.18 371.74,445.97 389.92,458.11 408.10,475.53 426.28,469.19 426.28,608.00 408.10,653.40 389.92,599.82 371.74,608.53 353.56,616.98 335.38,608.53 317.20,610.12 299.02,613.81 280.84,630.17 262.66,619.88 244.48,624.10 226.30,609.06 208.12,615.92 189.94,614.34 171.76,616.19 153.58,607.48 135.40,614.60 117.22,608.53 99.04,601.67 80.86,605.63" fill="#bfbfbf"/>
<polygon points="80.86,474.21 99.04,488.19 117.22,489.25 135.40,493.74 153.58,480.54 171.76,494.53 189.94,493.47 208.12,495.32 226.30,487.40 244.48,504.82 262.66,497.69 280.84,502.97 299.02,492.68 317.20,502.97 335.38,490.57 353.56,496.11 371.74,478.69 389.92,487.40 408.10,511.68 426.28,496.90 426.28,580.03 408.10,616.98 389.92,571.32 371.74,575.54 353.56,586.10 335.38,578.98 317.20,582.41 299.02,585.31 280.84,598.24 262.66,590.32 244.48,593.49 226.30,578.98 208.12,585.31 189.94,582.41 171.76,584.25 153.58,575.02 135.40,582.41 117.22,577.39 99.04,572.91 80.86,571.32" fill="#808080"/>
<line x1="80.86" y1="524.65" x2="426.28" y2="524.65" stroke="#f00" stroke-width="1.2" stroke-dasharray="1.3,2.8"/>
<line x1="80.86" y1="547.61" x2="426.28" y2="547.61" stroke="#f00" stroke-width="1.2" stroke-dasharray="1.3,2.8"/>
<polyline points="80.86,526.20 99.04,589.53 117.22,561.03 135.40,530.68 153.58,530.68 171.76,543.88 189.94,514.32 208.12,526.46 226.30,523.82 244.48,495.06 262.66,586.10 280.84,548.63 299.02,515.11 317.20,466.82 335.38,481.33 353.56,562.88 371.74,515.90 389.92,587.68 408.10,541.77 426.28,607.48" fill="none" stroke="#000" stroke-width="1.3" stroke-linejoin="round" />
<polygon points="80.86,523.20 81.60,525.18 83.71,525.27 82.06,526.58 82.62,528.62 80.86,527.46 79.10,528.62 79.66,526.58 78.01,525.27 80.12,525.18" fill="#000" stroke="#000" stroke-width="0.5"/>
<polygon points="99.04,586.53 99.78,588.51 101.89,588.60 100.24,589.92 100.80,591.96 99.04,590.79 97.28,591.96 97.84,589.92 96.19,588.60 98.30,588.51" fill="#000" stroke="#000" stroke-width="0.5"/>
<polygon points="117.22,558.03 117.96,560.01 120.07,560.10 118.42,561.42 118.98,563.46 117.22,562.29 115.46,563.46 116.02,561.42 114.37,560.10 116.48,560.01" fill="#000" stroke="#000" stroke-width="0.5"/>
<polygon points="135.40,527.68 136.14,529.66 138.25,529.75 136.60,531.07 137.16,533.11 135.40,531.94 133.64,533.11 134.20,531.07 132.55,529.75 134.66,529.66" fill="#000" stroke="#000" stroke-width="0.5"/>
<polygon points="153.58,527.68 154.32,529.66 156.43,529.75 154.78,531.07 155.34,533.11 153.58,531.94 151.82,533.11 152.38,531.07 150.73,529.75 152.84,529.66" fill="#000" stroke="#000" stroke-width="0.5"/>
<polygon points="171.76,540.88 172.50,542.86 174.61,542.95 172.96,544.27 173.52,546.30 171.76,545.14 170.00,546.30 170.56,544.27 168.91,542.95 171.02,542.86" fill="#000" stroke="#000" stroke-width="0.5"/>
<polygon points="189.94,511.32 190.68,513.30 192.79,513.39 191.14,514.71 191.70,516.75 189.94,515.58 188.18,516.75 188.74,514.71 187.09,513.39 189.20,513.30" fill="#000" stroke="#000" stroke-width="0.5"/>
<polygon points="208.12,523.46 208.86,525.44 210.97,525.53 209.32,526.85 209.88,528.89 208.12,527.72 206.36,528.89 206.92,526.85 205.27,525.53 207.38,525.44" fill="#000" stroke="#000" stroke-width="0.5"/>
<polygon points="226.30,520.82 227.04,522.80 229.15,522.89 227.50,524.21 228.06,526.25 226.30,525.08 224.54,526.25 225.10,524.21 223.45,522.89 225.56,522.80" fill="#000" stroke="#000" stroke-width="0.5"/>
<polygon points="244.48,492.06 245.22,494.04 247.33,494.13 245.68,495.44 246.24,497.48 244.48,496.32 242.72,497.48 243.28,495.44 241.63,494.13 243.74,494.04" fill="#000" stroke="#000" stroke-width="0.5"/>
<polygon points="262.66,583.10 263.40,585.08 265.51,585.17 263.86,586.49 264.42,588.53 262.66,587.36 260.90,588.53 261.46,586.49 259.81,585.17 261.92,585.08" fill="#000" stroke="#000" stroke-width="0.5"/>
<polygon points="280.84,545.63 281.58,547.61 283.69,547.70 282.04,549.02 282.60,551.05 280.84,549.89 279.08,551.05 279.64,549.02 277.99,547.70 280.10,547.61" fill="#000" stroke="#000" stroke-width="0.5"/>
<polygon points="299.02,512.11 299.76,514.09 301.87,514.18 300.22,515.50 300.78,517.54 299.02,516.37 297.26,517.54 297.82,515.50 296.17,514.18 298.28,514.09" fill="#000" stroke="#000" stroke-width="0.5"/>
<polygon points="317.20,463.82 317.94,465.80 320.05,465.89 318.40,467.21 318.96,469.24 317.20,468.08 315.44,469.24 316.00,467.21 314.35,465.89 316.46,465.80" fill="#000" stroke="#000" stroke-width="0.5"/>
<polygon points="335.38,478.33 336.12,480.31 338.23,480.41 336.58,481.72 337.14,483.76 335.38,482.59 333.62,483.76 334.18,481.72 332.53,480.41 334.64,480.31" fill="#000" stroke="#000" stroke-width="0.5"/>
<polygon points="353.56,559.88 354.30,561.86 356.41,561.95 354.76,563.27 355.32,565.30 353.56,564.14 351.80,565.30 352.36,563.27 350.71,561.95 352.82,561.86" fill="#000" stroke="#000" stroke-width="0.5"/>
<polygon points="371.74,512.90 372.48,514.88 374.59,514.98 372.94,516.29 373.50,518.33 371.74,517.16 369.98,518.33 370.54,516.29 368.89,514.98 371.00,514.88" fill="#000" stroke="#000" stroke-width="0.5"/>
<polygon points="389.92,584.68 390.66,586.66 392.77,586.76 391.12,588.07 391.68,590.11 389.92,588.94 388.16,590.11 388.72,588.07 387.07,586.76 389.18,586.66" fill="#000" stroke="#000" stroke-width="0.5"/>
<polygon points="408.10,538.77 408.84,540.75 410.95,540.84 409.30,542.15 409.86,544.19 408.10,543.03 406.34,544.19 406.90,542.15 405.25,540.84 407.36,540.75" fill="#000" stroke="#000" stroke-width="0.5"/>
<polygon points="426.28,604.48 427.02,606.46 429.13,606.55 427.48,607.87 428.04,609.90 426.28,608.74 424.52,609.90 425.08,607.87 423.43,606.55 425.54,606.46" fill="#000" stroke="#000" stroke-width="0.5"/>
<polyline points="80.86,523.03 99.04,530.42 117.22,533.06 135.40,538.33 153.58,527.25 171.76,539.39 189.94,537.81 208.12,540.45 226.30,532.53 244.48,550.74 262.66,543.88 280.84,549.95 299.02,538.33 317.20,543.88 335.38,534.90 353.56,540.97 371.74,527.25 389.92,528.57 408.10,564.72 426.28,538.60" fill="none" stroke="#00f" stroke-width="1.3" stroke-linejoin="round" />
<polygon points="80.86,520.03 81.60,522.01 83.71,522.10 82.06,523.42 82.62,525.46 80.86,524.29 79.10,525.46 79.66,523.42 78.01,522.10 80.12,522.01" fill="#00f" stroke="#00f" stroke-width="0.5"/>
<polygon points="99.04,527.42 99.78,529.40 101.89,529.49 100.24,530.81 100.80,532.84 99.04,531.68 97.28,532.84 97.84,530.81 96.19,529.49 98.30,529.40" fill="#00f" stroke="#00f" stroke-width="0.5"/>
<polygon points="117.22,530.06 117.96,532.04 120.07,532.13 118.42,533.45 118.98,535.48 117.22,534.32 115.46,535.48 116.02,533.45 114.37,532.13 116.48,532.04" fill="#00f" stroke="#00f" stroke-width="0.5"/>
<polygon points="135.40,535.33 136.14,537.32 138.25,537.41 136.60,538.72 137.16,540.76 135.40,539.59 133.64,540.76 134.20,538.72 132.55,537.41 134.66,537.32" fill="#00f" stroke="#00f" stroke-width="0.5"/>
<polygon points="153.58,524.25 154.32,526.23 156.43,526.32 154.78,527.64 155.34,529.68 153.58,528.51 151.82,529.68 152.38,527.64 150.73,526.32 152.84,526.23" fill="#00f" stroke="#00f" stroke-width="0.5"/>
<polygon points="171.76,536.39 172.50,538.37 174.61,538.46 172.96,539.78 173.52,541.82 171.76,540.65 170.00,541.82 170.56,539.78 168.91,538.46 171.02,538.37" fill="#00f" stroke="#00f" stroke-width="0.5"/>
<polygon points="189.94,534.81 190.68,536.79 192.79,536.88 191.14,538.20 191.70,540.23 189.94,539.07 188.18,540.23 188.74,538.20 187.09,536.88 189.20,536.79" fill="#00f" stroke="#00f" stroke-width="0.5"/>
<polygon points="208.12,537.45 208.86,539.43 210.97,539.52 209.32,540.84 209.88,542.87 208.12,541.71 206.36,542.87 206.92,540.84 205.27,539.52 207.38,539.43" fill="#00f" stroke="#00f" stroke-width="0.5"/>
<polygon points="226.30,529.53 227.04,531.51 229.15,531.60 227.50,532.92 228.06,534.96 226.30,533.79 224.54,534.96 225.10,532.92 223.45,531.60 225.56,531.51" fill="#00f" stroke="#00f" stroke-width="0.5"/>
<polygon points="244.48,547.74 245.22,549.72 247.33,549.81 245.68,551.13 246.24,553.17 244.48,552.00 242.72,553.17 243.28,551.13 241.63,549.81 243.74,549.72" fill="#00f" stroke="#00f" stroke-width="0.5"/>
<polygon points="262.66,540.88 263.40,542.86 265.51,542.95 263.86,544.27 264.42,546.30 262.66,545.14 260.90,546.30 261.46,544.27 259.81,542.95 261.92,542.86" fill="#00f" stroke="#00f" stroke-width="0.5"/>
<polygon points="280.84,546.95 281.58,548.93 283.69,549.02 282.04,550.34 282.60,552.37 280.84,551.21 279.08,552.37 279.64,550.34 277.99,549.02 280.10,548.93" fill="#00f" stroke="#00f" stroke-width="0.5"/>
<polygon points="299.02,535.33 299.76,537.32 301.87,537.41 300.22,538.72 300.78,540.76 299.02,539.59 297.26,540.76 297.82,538.72 296.17,537.41 298.28,537.32" fill="#00f" stroke="#00f" stroke-width="0.5"/>
<polygon points="317.20,540.88 317.94,542.86 320.05,542.95 318.40,544.27 318.96,546.30 317.20,545.14 315.44,546.30 316.00,544.27 314.35,542.95 316.46,542.86" fill="#00f" stroke="#00f" stroke-width="0.5"/>
<polygon points="335.38,531.90 336.12,533.88 338.23,533.98 336.58,535.29 337.14,537.33 335.38,536.16 333.62,537.33 334.18,535.29 332.53,533.98 334.64,533.88" fill="#00f" stroke="#00f" stroke-width="0.5"/>
<polygon points="353.56,537.97 354.30,539.95 356.41,540.05 354.76,541.36 355.32,543.40 353.56,542.23 351.80,543.40 352.36,541.36 350.71,540.05 352.82,539.95" fill="#00f" stroke="#00f" stroke-width="0.5"/>
<polygon points="371.74,524.25 372.48,526.23 374.59,526.32 372.94,527.64 373.50,529.68 371.74,528.51 369.98,529.68 370.54,527.64 368.89,526.32 371.00,526.23" fill="#00f" stroke="#00f" stroke-width="0.5"/>
<polygon points="389.92,525.57 390.66,527.55 392.77,527.64 391.12,528.96 391.68,531.00 389.92,529.83 388.16,531.00 388.72,528.96 387.07,527.64 389.18,527.55" fill="#00f" stroke="#00f" stroke-width="0.5"/>
<polygon points="408.10,561.72 408.84,563.71 410.95,563.80 409.30,565.11 409.86,567.15 408.10,565.98 406.34,567.15 406.90,565.11 405.25,563.80 407.36,563.71" fill="#00f" stroke="#00f" stroke-width="0.5"/>
<polygon points="426.28,535.60 427.02,537.58 429.13,537.67 427.48,538.99 428.04,541.03 426.28,539.86 424.52,541.03 425.08,538.99 423.43,537.67 425.54,537.58" fill="#00f" stroke="#00f" stroke-width="0.5"/>
<line x1="44.50" y1="663.30" x2="44.50" y2="659.30" stroke="#000" stroke-width="0.7"/><line x1="44.50" y1="433.30" x2="44.50" y2="437.30" stroke="#000" stroke-width="0.7"/><line x1="135.40" y1="663.30" x2="135.40" y2="659.30" stroke="#000" stroke-width="0.7"/><line x1="135.40" y1="433.30" x2="135.40" y2="437.30" stroke="#000" stroke-width="0.7"/><line x1="226.30" y1="663.30" x2="226.30" y2="659.30" stroke="#000" stroke-width="0.7"/><line x1="226.30" y1="433.30" x2="226.30" y2="437.30" stroke="#000" stroke-width="0.7"/><line x1="317.20" y1="663.30" x2="317.20" y2="659.30" stroke="#000" stroke-width="0.7"/><line x1="317.20" y1="433.30" x2="317.20" y2="437.30" stroke="#000" stroke-width="0.7"/><line x1="408.10" y1="663.30" x2="408.10" y2="659.30" stroke="#000" stroke-width="0.7"/><line x1="408.10" y1="433.30" x2="408.10" y2="437.30" stroke="#000" stroke-width="0.7"/><line x1="499.00" y1="663.30" x2="499.00" y2="659.30" stroke="#000" stroke-width="0.7"/><line x1="499.00" y1="433.30" x2="499.00" y2="437.30" stroke="#000" stroke-width="0.7"/>
<line x1="44.50" y1="651.02" x2="48.50" y2="651.02" stroke="#000" stroke-width="0.7"/><line x1="44.50" y1="624.63" x2="48.50" y2="624.63" stroke="#000" stroke-width="0.7"/><line x1="44.50" y1="598.24" x2="48.50" y2="598.24" stroke="#000" stroke-width="0.7"/><line x1="44.50" y1="571.85" x2="48.50" y2="571.85" stroke="#000" stroke-width="0.7"/><line x1="44.50" y1="545.46" x2="48.50" y2="545.46" stroke="#000" stroke-width="0.7"/><line x1="44.50" y1="519.07" x2="48.50" y2="519.07" stroke="#000" stroke-width="0.7"/><line x1="44.50" y1="492.68" x2="48.50" y2="492.68" stroke="#000" stroke-width="0.7"/><line x1="44.50" y1="466.29" x2="48.50" y2="466.29" stroke="#000" stroke-width="0.7"/><line x1="44.50" y1="439.90" x2="48.50" y2="439.90" stroke="#000" stroke-width="0.7"/>
<line x1="499.00" y1="651.02" x2="495.00" y2="651.02" stroke="#000" stroke-width="0.7"/><line x1="499.00" y1="624.63" x2="495.00" y2="624.63" stroke="#000" stroke-width="0.7"/><line x1="499.00" y1="598.24" x2="495.00" y2="598.24" stroke="#000" stroke-width="0.7"/><line x1="499.00" y1="571.85" x2="495.00" y2="571.85" stroke="#000" stroke-width="0.7"/><line x1="499.00" y1="545.46" x2="495.00" y2="545.46" stroke="#000" stroke-width="0.7"/><line x1="499.00" y1="519.07" x2="495.00" y2="519.07" stroke="#000" stroke-width="0.7"/><line x1="499.00" y1="492.68" x2="495.00" y2="492.68" stroke="#000" stroke-width="0.7"/><line x1="499.00" y1="466.29" x2="495.00" y2="466.29" stroke="#000" stroke-width="0.7"/><line x1="499.00" y1="439.90" x2="495.00" y2="439.90" stroke="#000" stroke-width="0.7"/>
<rect x="44.50" y="433.30" width="454.50" height="230.00" fill="none" stroke="#000" stroke-width="1.25"/>
<text x="41.40" y="654.82" font-size="10.4" fill="#000" text-anchor="end" font-weight="normal" stroke="#000" stroke-width="0.2" textLength="26.00" lengthAdjust="spacingAndGlyphs" >2300</text>
<text x="41.40" y="628.43" font-size="10.4" fill="#000" text-anchor="end" font-weight="normal" stroke="#000" stroke-width="0.2" textLength="26.00" lengthAdjust="spacingAndGlyphs" >2400</text>
<text x="41.40" y="602.04" font-size="10.4" fill="#000" text-anchor="end" font-weight="normal" stroke="#000" stroke-width="0.2" textLength="26.00" lengthAdjust="spacingAndGlyphs" >2500</text>
<text x="41.40" y="575.65" font-size="10.4" fill="#000" text-anchor="end" font-weight="normal" stroke="#000" stroke-width="0.2" textLength="26.00" lengthAdjust="spacingAndGlyphs" >2600</text>
<text x="41.40" y="549.26" font-size="10.4" fill="#000" text-anchor="end" font-weight="normal" stroke="#000" stroke-width="0.2" textLength="26.00" lengthAdjust="spacingAndGlyphs" >2700</text>
<text x="41.40" y="522.87" font-size="10.4" fill="#000" text-anchor="end" font-weight="normal" stroke="#000" stroke-width="0.2" textLength="26.00" lengthAdjust="spacingAndGlyphs" >2800</text>
<text x="41.40" y="496.48" font-size="10.4" fill="#000" text-anchor="end" font-weight="normal" stroke="#000" stroke-width="0.2" textLength="26.00" lengthAdjust="spacingAndGlyphs" >2900</text>
<text x="41.40" y="470.09" font-size="10.4" fill="#000" text-anchor="end" font-weight="normal" stroke="#000" stroke-width="0.2" textLength="26.00" lengthAdjust="spacingAndGlyphs" >3000</text>
<text x="41.40" y="443.70" font-size="10.4" fill="#000" text-anchor="end" font-weight="normal" stroke="#000" stroke-width="0.2" textLength="26.00" lengthAdjust="spacingAndGlyphs" >3100</text>
<text x="45.10" y="678.70" font-size="10.4" fill="#000" text-anchor="middle" font-weight="normal" stroke="#000" stroke-width="0.2" textLength="26.20" lengthAdjust="spacingAndGlyphs" >1995</text><text x="136.00" y="678.70" font-size="10.4" fill="#000" text-anchor="middle" font-weight="normal" stroke="#000" stroke-width="0.2" textLength="26.20" lengthAdjust="spacingAndGlyphs" >2000</text><text x="226.90" y="678.70" font-size="10.4" fill="#000" text-anchor="middle" font-weight="normal" stroke="#000" stroke-width="0.2" textLength="26.20" lengthAdjust="spacingAndGlyphs" >2005</text><text x="317.80" y="678.70" font-size="10.4" fill="#000" text-anchor="middle" font-weight="normal" stroke="#000" stroke-width="0.2" textLength="26.20" lengthAdjust="spacingAndGlyphs" >2010</text><text x="408.70" y="678.70" font-size="10.4" fill="#000" text-anchor="middle" font-weight="normal" stroke="#000" stroke-width="0.2" textLength="26.20" lengthAdjust="spacingAndGlyphs" >2015</text><text x="499.60" y="678.70" font-size="10.4" fill="#000" text-anchor="middle" font-weight="normal" stroke="#000" stroke-width="0.2" textLength="26.20" lengthAdjust="spacingAndGlyphs" >2020</text>
<text x="9.00" y="547.60" font-size="11.5" fill="#000" text-anchor="middle" font-weight="normal" stroke="#000" stroke-width="0.2" textLength="87.00" lengthAdjust="spacingAndGlyphs" transform="rotate(-90 9.00 547.60)" >Demand (GWh)</text>
<text x="271.70" y="694.20" font-size="11.5" fill="#000" text-anchor="middle" font-weight="normal" stroke="#000" stroke-width="0.2" textLength="23.00" lengthAdjust="spacingAndGlyphs" >Year</text>
<text x="55.20" y="423.50" font-size="13" fill="#000" text-anchor="start" font-weight="bold" textLength="12.60" lengthAdjust="spacingAndGlyphs" >d)</text></svg></body></html>
